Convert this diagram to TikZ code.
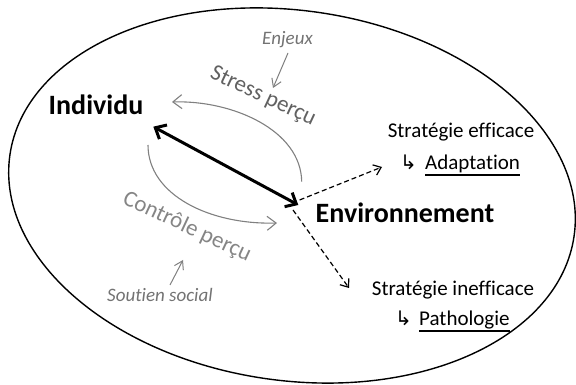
\documentclass[tikz,border=0pt]{standalone}
\usepackage{fontspec}
\setmainfont{Carlito}[Ligatures=NoCommon]
\newfontfamily\symfont{DejaVu Sans}
\usetikzlibrary{arrows.meta}
\definecolor{arcgray}{gray}{0.50}
\definecolor{stressgray}{gray}{0.38}
\definecolor{ctrlgray}{gray}{0.52}
\definecolor{notegray}{gray}{0.45}
% underlined word with a heavier rule
\newcommand\ulword[1]{\setbox0=\hbox{#1}\rlap{\rule[-5.6pt]{\wd0}{1.2pt}}\box0}
% hooked arrow in a box of fixed width, followed by the word
\newcommand\hooked[2]{\makebox[#1][l]{\symfont\fontsize{20}{24}\selectfont ↳}\ulword{#2}}
\begin{document}
\begin{tikzpicture}[x=1pt,y=1pt,
  bigword/.style={font=\fontsize{28}{33}\selectfont\bfseries, anchor=base, inner sep=0pt},
  stratword/.style={font=\fontsize{21}{25}\selectfont, anchor=base, inner sep=0pt},
  noteword/.style={font=\fontsize{19}{23}\selectfont\itshape, text=notegray, anchor=base, inner sep=0pt},
  arcword/.style={font=\fontsize{23}{27}\selectfont, inner sep=0pt},
  looparrow/.style={draw=arcgray, line width=1.1pt, -{Straight Barb[length=9pt,width=14pt]}},
  notearrow/.style={draw=arcgray, line width=1pt, -{Straight Barb[length=8pt,width=10pt]}},
  linkarrow/.style={line width=3pt, {Straight Barb[length=9pt,width=16pt]}-{Straight Barb[length=9pt,width=16pt]}},
  outcome/.style={line width=1.2pt, dash pattern=on 5pt off 3pt, -{Straight Barb[length=7pt,width=11pt]}}
]
\useasboundingbox (0,0) rectangle (576,385);

% enclosing environment
\draw[line width=1.4pt] (292,189.5) circle [x radius=285pt, y radius=185pt, rotate=-8.2];

% main actors
\node[bigword] (ind) at (96,270) {Individu};
\node[bigword] (env) at (405,162) {Environnement};

% outcomes
\node[stratword] (eff) at (461,247) {Stratégie efficace};
\node[stratword, anchor=base west] (adapt) at (400,215) {\hooked{25pt}{Adaptation}};
\node[stratword] (ineff) at (453,89) {Stratégie inefficace};
\node[stratword, anchor=base west] (patho) at (395,59) {\hooked{24pt}{Pathologie}};

% appraisals
\node[arcword, text=stressgray, rotate=-25] (stress) at (263,288) {Stress perçu};
\node[arcword, text=ctrlgray, rotate=-25] (ctrl) at (187,158) {Contrôle perçu};

% modulators
\node[noteword] (enj) at (287.5,340) {Enjeux};
\node[noteword] (sout) at (160,83) {Soutien social};

% connector end points
\coordinate (indTip) at (153.3,258.3);
\coordinate (envTip) at (298.3,180);
\coordinate (upStart) at (301.7,203.3);
\coordinate (upEnd) at (172,283);
\coordinate (lowStart) at (148,240);
\coordinate (lowEnd) at (277,162);
\coordinate (enjStart) at (288,332);
\coordinate (enjEnd) at (273,297);
\coordinate (soutStart) at (170,100);
\coordinate (soutEnd) at (183,125);
\coordinate (effFrom) at (299.6,185);
\coordinate (effTip) at (382,218);
\coordinate (ineffFrom) at (293,175);
\coordinate (ineffTip) at (349,97);

% transaction between individual and environment
\draw[linkarrow] (indTip) -- (envTip);

% appraisal loops
\draw[looparrow] (upStart) .. controls (301,255) and (232,285) .. (upEnd);
\draw[looparrow] (lowStart) .. controls (148,190) and (210,160) .. (lowEnd);

% modulator arrows
\draw[notearrow] (enjStart) -- (enjEnd);
\draw[notearrow] (soutStart) -- (soutEnd);

% coping outcomes
\draw[outcome] (effFrom) -- (effTip);
\draw[outcome] (ineffFrom) -- (ineffTip);
\end{tikzpicture}
\end{document}
